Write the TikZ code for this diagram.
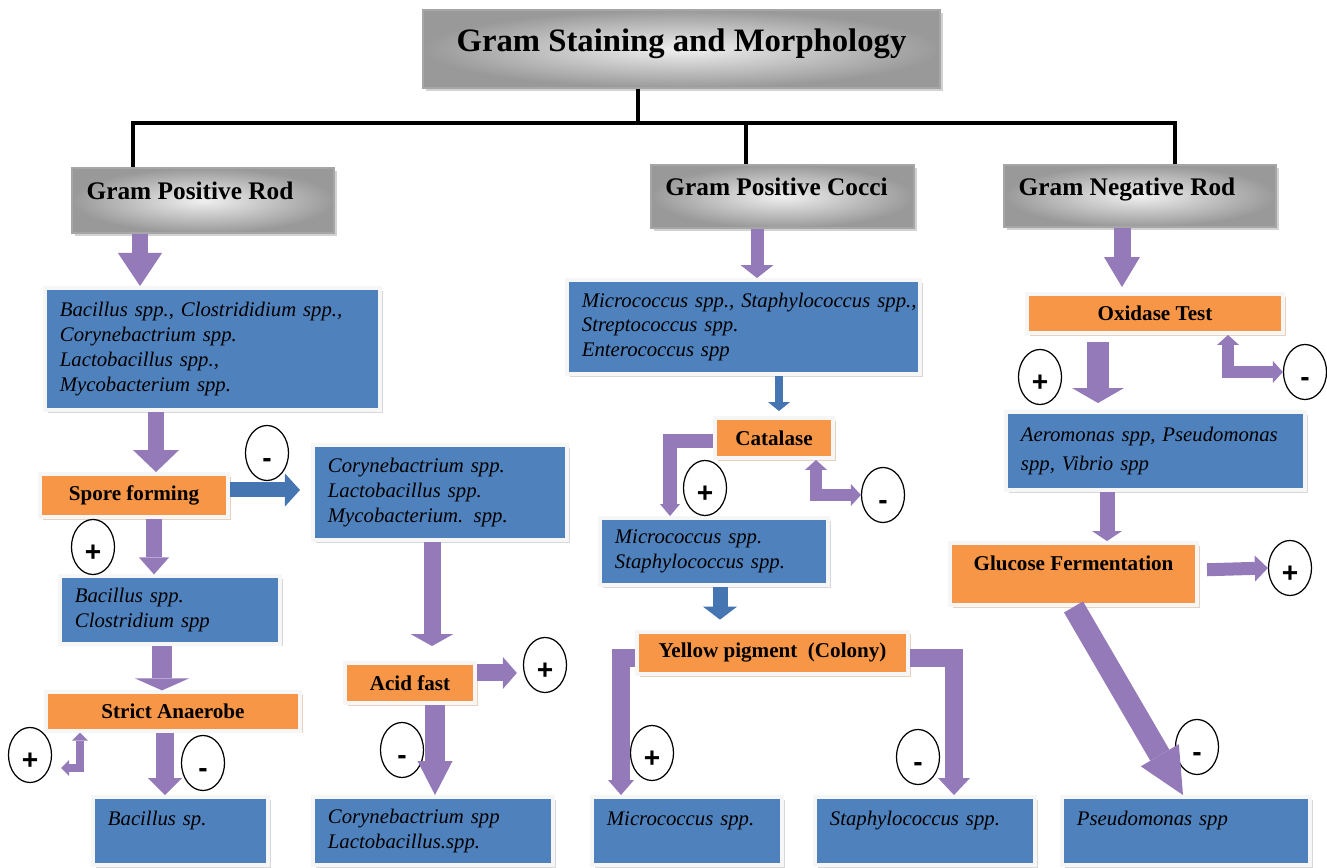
\documentclass[tikz,border=0pt]{standalone}
\usepackage{fontspec}
\setmainfont{Liberation Serif}
\newfontfamily\signfont{Liberation Sans}
\usetikzlibrary{shapes.geometric,shadows,arrows.meta}

\definecolor{boxblue}{RGB}{79,129,189}
\definecolor{testorange}{RGB}{247,150,70}
\definecolor{arrowpurple}{RGB}{148,122,184}
\definecolor{arrowblue}{RGB}{70,118,178}

\tikzset{
	hdr/.style={draw=gray!70, line width=0.6pt, inner color=gray!12, outer color=gray!80,
		drop shadow={shadow xshift=0.8pt,shadow yshift=-0.8pt,fill=gray!70},
		font=\fontsize{7.2}{8}\selectfont\bfseries, text depth=5.4pt},
	spbox/.style={fill=boxblue, draw=white!93!gray, line width=1.1pt, inner xsep=0.15cm, align=left,
		drop shadow={shadow xshift=0.8pt,shadow yshift=-0.8pt,fill=gray!60},
		font=\fontsize{5.9}{7.1}\selectfont\itshape},
	tstbox/.style={fill=testorange, draw=white!93!gray, line width=1.1pt,
		drop shadow={shadow xshift=0.8pt,shadow yshift=-0.8pt,fill=brown!70},
		font=\fontsize{6}{7}\selectfont\bfseries},
	signmark/.style={ellipse, draw, line width=0.35pt, fill=white, minimum width=0.43cm, minimum height=0.55cm,
		inner sep=0pt, font=\signfont\bfseries\fontsize{8}{8}\selectfont, text height=8pt, text depth=0pt},
	parrow/.style n args={3}{draw=arrowpurple, line width=#1, -{Triangle[width=#2,length=#3,line width=0pt]}},
	barrow/.style n args={3}{draw=arrowblue, line width=#1, -{Triangle[width=#2,length=#3,line width=0pt]}},
	pbend/.style n args={3}{draw=arrowpurple, line width=#1,
		{Triangle[width=#2,length=#3,line width=0pt]}-{Triangle[width=#2,length=#3,line width=0pt]}},
	treeline/.style={line width=1.1pt}
}

\begin{document}
\begin{tikzpicture}[x=0.01cm,y=-0.01cm]
	\useasboundingbox (0,0) rectangle (1327,868);
	% headers
	\node[hdr, minimum width=5.17cm, minimum height=0.78cm, font=\fontsize{9.3}{11}\selectfont\bfseries, text depth=5.2pt] (title) at (681.5,49) {Gram Staining and Morphology};
	\node[hdr, minimum width=2.62cm, minimum height=0.65cm] (gpr) at (203,200.5) {Gram Positive Rod\rule{0.26cm}{0pt}};
	\node[hdr, minimum width=2.63cm, minimum height=0.63cm] (gpc) at (782.5,196.5) {Gram Positive Cocci\rule{0.12cm}{0pt}};
	\node[hdr, minimum width=2.72cm, minimum height=0.62cm] (gnr) at (1140,196) {Gram Negative Rod\rule{0.26cm}{0pt}};

	\coordinate (bus) at (638,123);
	\draw[treeline] (title.south -| bus) -- (bus);
	\draw[treeline] (gpr.north -| 133,0) |- (bus) -| (gnr.north -| 1175,0);
	\draw[treeline] (bus -| 746,0) -- (gpc.north -| 746,0);

	% gram positive rod
	\node[spbox, text width=3.05cm, minimum height=1.22cm] (rodall) at (212.5,349) {\mbox{Bacillus spp., Clostrididium spp.,}\\Corynebactrium spp.\\Lactobacillus spp.,\\Mycobacterium spp.};
	\node[tstbox, minimum width=1.88cm, minimum height=0.43cm] (spore) at (134,495.5) {Spore forming};
	\node[spbox, text width=2.24cm, minimum height=0.95cm] (sporeneg) at (440,492.5) {Corynebactrium spp.\\Lactobacillus spp.\\Mycobacterium. spp.};
	\node[spbox, text width=1.90cm, minimum height=0.66cm] (sporepos) at (170,610) {Bacillus spp.\\Clostridium spp};
	\node[tstbox, minimum width=2.54cm, minimum height=0.37cm] (strict) at (173,711.5) {Strict Anaerobe};
	\node[spbox, text width=1.45cm, minimum height=0.68cm] (bacsp) at (180.5,831) {Bacillus sp.\\\mbox{}};
	\node[tstbox, minimum width=1.30cm, minimum height=0.40cm] (acid) at (410,683) {Acid fast};
	\node[spbox, text width=2.10cm, minimum height=0.68cm] (coryne) at (433,831) {Corynebactrium spp\\Lactobacillus.spp.};

	% gram positive cocci
	\node[spbox, text width=3.23cm, minimum height=0.94cm] (cocciall) at (743.5,327) {\mbox{Micrococcus spp., Staphylococcus spp.,}\\Streptococcus spp.\\Enterococcus spp};
	\node[tstbox, minimum width=1.18cm, minimum height=0.40cm] (catalase) at (774,438) {Catalase};
	\node[spbox, text width=1.98cm, minimum height=0.67cm] (microstaph) at (714,551.5) {Micrococcus spp.\\Staphylococcus spp.};
	\node[tstbox, minimum width=2.71cm, minimum height=0.40cm] (yellow) at (772.5,653) {Yellow pigment\ \ (Colony)};
	\node[spbox, text width=1.60cm, minimum height=0.68cm] (micro) at (687,831) {Micrococcus spp.\\\mbox{}};
	\node[spbox, text width=1.90cm, minimum height=0.68cm] (staph) at (925,831) {Staphylococcus spp.\\\mbox{}};

	% gram negative rod
	\node[tstbox, minimum width=2.56cm, minimum height=0.39cm] (oxidase) at (1155,313.5) {Oxidase Test};
	\node[spbox, text width=2.69cm, minimum height=0.78cm] (aero) at (1155.5,451) {\mbox{Aeromonas spp, Pseudomonas}\\[1pt]spp, Vibrio spp};
	\node[tstbox, minimum width=2.47cm, minimum height=0.62cm, text depth=6.2pt] (glucose) at (1073.5,574) {Glucose Fermentation};
	\node[spbox, text width=2.18cm, minimum height=0.68cm] (pseudo) at (1186,831) {Pseudomonas spp\\\mbox{}};

	% results
	\node[signmark] (spneg) at (267,453) {-};
	\node[signmark] (sppos) at (93,547) {+};
	\node[signmark] (strictpos) at (30,755) {+};
	\node[signmark] (strictneg) at (203,763) {-};
	\node[signmark] (acidpos) at (545,665) {+};
	\node[signmark] (acidneg) at (402,750) {-};
	\node[signmark] (catpos) at (705,488) {+};
	\node[signmark] (catneg) at (883,495) {-};
	\node[signmark] (yelpos) at (652,753) {+};
	\node[signmark] (yelneg) at (918,757) {-};
	\node[signmark] (oxpos) at (1040,377) {+};
	\node[signmark] (oxneg) at (1305,372) {-};
	\node[signmark] (glupos) at (1290,568) {+};
	\node[signmark] (gluneg) at (1197,747) {-};

	% arrows
	\draw[parrow={0.15cm}{0.44cm}{0.33cm}] (gpr.south -| 140,0) -- (rodall.north -| 140,0);
	\draw[parrow={0.16cm}{0.46cm}{0.22cm}] (rodall.south -| 156,0) -- (spore.north -| 156,0);
	\draw[parrow={0.16cm}{0.30cm}{0.17cm}] (spore.south -| 154,0) -- (sporepos.north -| 154,0);
	\draw[parrow={0.20cm}{0.54cm}{0.12cm}] (sporepos.south -| 162,0) -- (strict.north -| 162,0);
	\draw[parrow={0.18cm}{0.34cm}{0.17cm}] (strict.south -| 165,0) -- (bacsp.north -| 165,0);
	\draw[pbend={0.08cm}{0.16cm}{0.08cm}, shorten >=0.09cm] (strict.south -| 80,0) |- (strictpos.east |- 0,768);
	\draw[barrow={0.15cm}{0.33cm}{0.15cm}, shorten >=0.11cm] (spore.east |- 0,490) -- (sporeneg.west |- 0,490);
	\draw[parrow={0.17cm}{0.43cm}{0.12cm}, shorten >=0.15cm] (sporeneg.south -| 432,0) -- (acid.north -| 432,0);
	\draw[parrow={0.17cm}{0.32cm}{0.14cm}, shorten >=0.06cm] (acid.east |- 0,673) -- (acidpos.west |- 0,673);
	\draw[parrow={0.20cm}{0.35cm}{0.34cm}] (acid.south -| 435,0) -- (coryne.north -| 435,0);

	\draw[parrow={0.13cm}{0.33cm}{0.13cm}] (gpc.south -| 757,0) -- (cocciall.north -| 757,0);
	\draw[barrow={0.08cm}{0.22cm}{0.09cm}, shorten >=0.05cm] (cocciall.south -| 779,0) -- (catalase.north -| 779,0);
	\draw[parrow={0.14cm}{0.20cm}{0.12cm}] (catalase.west |- 0,441) -| (microstaph.north -| 670,0);
	\draw[pbend={0.12cm}{0.22cm}{0.10cm}] (catalase.south -| 816,0) |- (catneg.west);
	\draw[barrow={0.15cm}{0.34cm}{0.13cm}, shorten >=0.1cm] (microstaph.south -| 720,0) -- (yellow.north -| 720,0);
	\draw[parrow={0.18cm}{0.26cm}{0.15cm}] (yellow.west |- 0,658) -| (micro.north -| 621,0);
	\draw[parrow={0.18cm}{0.32cm}{0.17cm}] (yellow.east |- 0,658) -| (staph.north -| 954,0);

	\draw[parrow={0.17cm}{0.36cm}{0.30cm}, shorten >=0.05cm] (gnr.south -| 1122,0) -- (oxidase.north -| 1122,0);
	\draw[parrow={0.22cm}{0.52cm}{0.15cm}, shorten <=0.07cm, shorten >=0.07cm] (oxidase.south -| 1098,0) -- (aero.north -| 1098,0);
	\draw[pbend={0.12cm}{0.22cm}{0.10cm}] (oxidase.south -| 1228,0) |- (oxneg.west);
	\draw[parrow={0.15cm}{0.30cm}{0.10cm}] (aero.south -| 1107,0) -- (glucose.north -| 1107,0);
	\draw[parrow={0.13cm}{0.26cm}{0.13cm}, shorten <=0.08cm] (glucose.east |- 0,570) -- (glupos.west);
	\draw[parrow={0.22cm}{0.44cm}{0.46cm}] (glucose.south) -- (pseudo.north -| 1183,0);
\end{tikzpicture}
\end{document}
